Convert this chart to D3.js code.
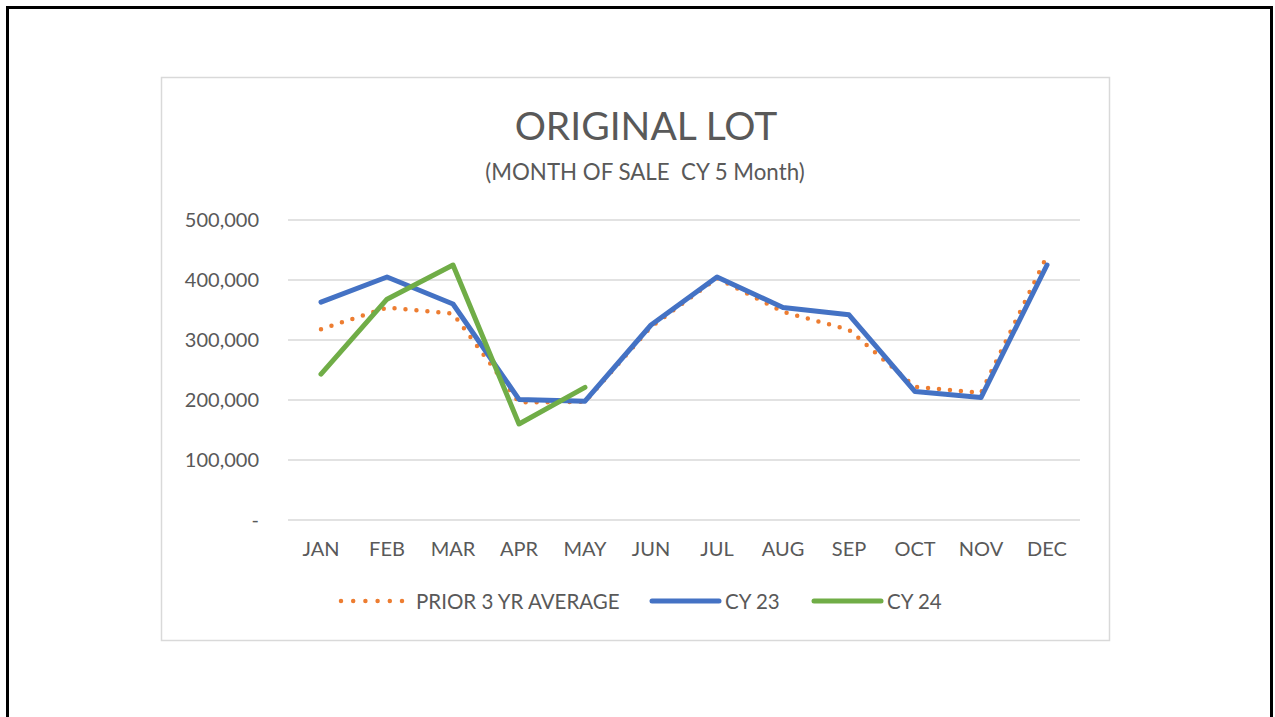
<!DOCTYPE html>
<html>
<head>
<meta charset="utf-8">
<script src="https://cdn.jsdelivr.net/npm/d3@7"></script>
<style>
  body { margin: 0; background: #fff; }
  svg { display: block; font-family: Lato, "Open Sans", sans-serif; }
  text { white-space: pre; }
</style>
</head>
<body>
<svg id="chart" width="1275" height="717"></svg>
<script>
const months = ["JAN","FEB","MAR","APR","MAY","JUN","JUL","AUG","SEP","OCT","NOV","DEC"];
const prior3yr = [318000, 354000, 344000, 196000, 197000, 322000, 403000, 347000, 317000, 222000, 212000, 440000];
const cy23 = [363000, 405000, 360000, 201000, 198000, 325000, 405000, 354000, 342000, 214000, 204000, 425000];
const cy24 = [243000, 368000, 425000, 160000, 221000];
const yTicks = [0, 100000, 200000, 300000, 400000, 500000];

const svg = d3.select("#chart");

// slide frame + chart area box
svg.append("rect").attr("x", 7.5).attr("y", 7.5).attr("width", 1264).attr("height", 800)
  .attr("fill", "none").attr("stroke", "#000").attr("stroke-width", 3);
svg.append("rect").attr("x", 161.5).attr("y", 77.5).attr("width", 948).attr("height", 563)
  .attr("fill", "#fff").attr("stroke", "#d9d9d9").attr("stroke-width", 1.5);

svg.append("text").attr("x", 646).attr("y", 140).attr("text-anchor", "middle")
  .attr("font-size", 39).attr("fill", "#595959").text("ORIGINAL LOT");
svg.append("text").attr("x", 645).attr("y", 180).attr("text-anchor", "middle")
  .attr("font-size", 22.3).attr("fill", "#595959").text("(MONTH OF SALE  CY 5 Month)");

const x = d3.scaleBand().domain(months).range([288, 1080]);
const y = d3.scaleLinear().domain([0, 500000]).range([520, 220]);

// gridlines
svg.append("g").selectAll("line").data(yTicks).join("line")
  .attr("x1", 288).attr("x2", 1080)
  .attr("y1", d => y(d)).attr("y2", d => y(d))
  .attr("stroke", "#d9d9d9").attr("stroke-width", 1.5);

const yAxis = svg.append("g").attr("transform", "translate(259,0)")
  .call(d3.axisLeft(y).tickValues(yTicks).tickSize(0).tickPadding(0)
    .tickFormat(d => d === 0 ? "-" : d3.format(",")(d)));
yAxis.attr("font-family", null).attr("font-size", 20);
yAxis.select(".domain").remove();
yAxis.selectAll("text").attr("fill", "#595959");

const xAxis = svg.append("g").attr("transform", "translate(0,520)")
  .call(d3.axisBottom(x).tickSize(0).tickPadding(22));
xAxis.attr("font-family", null).attr("font-size", 20);
xAxis.select(".domain").remove();
xAxis.selectAll("text").attr("fill", "#595959");

const line = d3.line().x((d, i) => x(months[i]) + x.bandwidth() / 2).y(d => y(d));

svg.append("path").datum(prior3yr).attr("d", line).attr("fill", "none")
  .attr("stroke", "#ed7d31").attr("stroke-width", 4.5).attr("stroke-linecap", "round")
  .attr("stroke-dasharray", "0,11");
svg.append("path").datum(cy23).attr("d", line).attr("fill", "none")
  .attr("stroke", "#4472c4").attr("stroke-width", 5).attr("stroke-linecap", "round")
  .attr("stroke-linejoin", "round");
svg.append("path").datum(cy24).attr("d", line).attr("fill", "none")
  .attr("stroke", "#70ad47").attr("stroke-width", 5).attr("stroke-linecap", "round")
  .attr("stroke-linejoin", "round");

// legend
const legend = [
  {name: "PRIOR 3 YR AVERAGE", color: "#ed7d31", dotted: true, x: 341},
  {name: "CY 23", color: "#4472c4", dotted: false, x: 652},
  {name: "CY 24", color: "#70ad47", dotted: false, x: 814}
];
const lg = svg.append("g").selectAll("g").data(legend).join("g")
  .attr("transform", d => `translate(${d.x},601)`);
lg.append("line").attr("x1", 0).attr("x2", d => d.dotted ? 61 : 67)
  .attr("stroke", d => d.color).attr("stroke-width", d => d.dotted ? 4.5 : 5)
  .attr("stroke-linecap", "round")
  .attr("stroke-dasharray", d => d.dotted ? "0,12.2" : null);
lg.append("text").attr("x", d => d.dotted ? 75 : 73).attr("y", 8)
  .attr("font-size", 20.5).attr("fill", "#595959").text(d => d.name);
</script>
</body>
</html>
